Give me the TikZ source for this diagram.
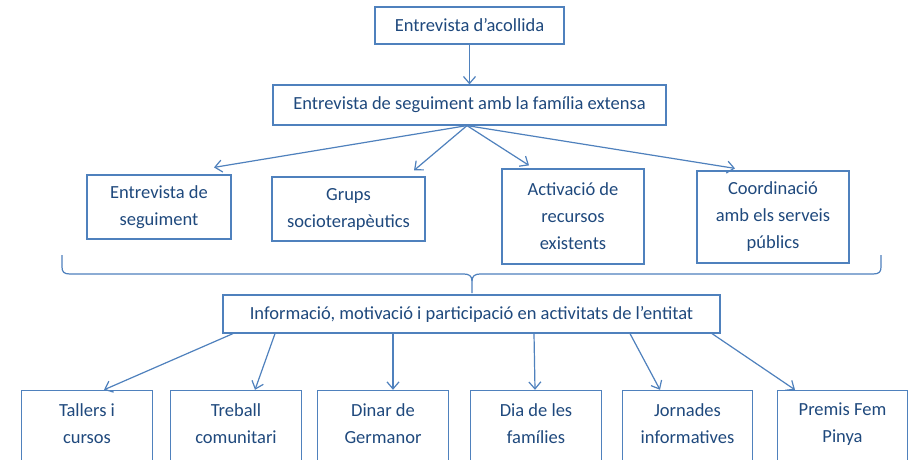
\documentclass[tikz,border=0pt]{standalone}
\usepackage{fontspec}
\setmainfont{Carlito}
\usetikzlibrary{arrows.meta}
\definecolor{txt}{HTML}{1F497D}
\definecolor{ln}{HTML}{4F81BD}
\begin{document}
\begin{tikzpicture}[x=1pt,y=-1pt,
  lab/.style={text=txt, align=center, inner sep=0pt, font=\fontsize{18.5pt}{27pt}\selectfont},
  box/.style={lab, draw=ln, line width=1.2pt},
  edge/.style={draw=ln, line width=1.2pt},
  arr/.style={edge, -{Straight Barb[length=7pt,width=12pt,line width=1.2pt]}}]
\clip (0,0) rectangle (912,460);
\fill[white] (0,0) rectangle (912,460);
% top
\node[box, minimum width=189pt, minimum height=37pt] (a) at (469.5,25.5) {Entrevista d’acollida};
\node[box, minimum width=393pt, minimum height=40pt] (b) at (469.5,105) {Entrevista de seguiment amb la família extensa};
% second row
\node[box, minimum width=144pt, minimum height=64pt] (c1) at (159,207) {Entrevista de\\seguiment};
\node[box, minimum width=153pt, minimum height=64pt] (c2) at (348.5,209) {Grups\\socioterapèutics};
\node[box, minimum width=142pt, minimum height=95pt] (c3) at (573,216.5) {Activació de\\recursos\\existents};
\node[box, minimum width=152pt, minimum height=92pt] (c4) at (773,217) {Coordinació\\amb els serveis\\públics};
% middle
\node[box, minimum width=497pt, minimum height=38pt] (d) at (471.5,314) {Informació, motivació i participació en activitats de l’entitat};
% bottom row (cut off at the lower edge)
\node[lab, minimum width=130pt, minimum height=66pt] (e1) at (87,424) {Tallers i\\cursos};
\node[lab, minimum width=130pt, minimum height=66pt] (e2) at (236,424) {Treball\\comunitari};
\node[lab, minimum width=130pt, minimum height=66pt] (e3) at (383,424) {Dinar de\\Germanor};
\node[lab, minimum width=130pt, minimum height=66pt] (e4) at (536,424) {Dia de les\\famílies};
\node[lab, minimum width=129pt, minimum height=66pt] (e5) at (687.5,424) {Jornades\\informatives};
\node[lab, minimum width=129pt, minimum height=66pt] (e6) at (842.5,424) {Premis Fem\\Pinya};
\foreach \n in {e1,e2,e3,e4,e5,e6}{
  \draw[edge] ([yshift=-10pt]\n.south west) -- (\n.north west) -- (\n.north east) -- ([yshift=-10pt]\n.south east);
}
% arrows
\draw[arr] (a.south) -- (b.north);
\draw[arr] ([xshift=-2.5pt]b.south) -- ([xshift=55pt,yshift=7pt]c1.north);
\draw[arr] ([xshift=-2.5pt]b.south) -- ([xshift=65.5pt,yshift=6pt]c2.north);
\draw[arr] ([xshift=-2.5pt]b.south) -- ([xshift=-44pt,yshift=3pt]c3.north);
\draw[arr] ([xshift=-2.5pt]b.south) -- ([xshift=-38pt,yshift=2pt]c4.north);
% brace
\coordinate (brL) at (62,255);
\coordinate (brR) at (881,255);
\coordinate (brM) at (472,293);
\draw[edge, line join=round] (brL) -- (62,267) .. controls (62,272) and (64,274) .. (70,274) -- (464,274)
  .. controls (469,274) and (472,276) .. (472,281) -- (brM);
\draw[edge, line join=round] (472,281) .. controls (472,276) and (475,274) .. (480,274) -- (873,274)
  .. controls (879,274) and (881,272) .. (881,267) -- (brR);
% lower arrows
\draw[arr] ([xshift=-238.5pt]d.south) -- ([xshift=17pt,yshift=1pt]e1.north);
\draw[arr] ([xshift=-196.5pt]d.south) -- ([xshift=19pt,yshift=1pt]e2.north);
\draw[arr] ([xshift=-78.5pt]d.south) -- ([xshift=10pt,yshift=1pt]e3.north);
\draw[arr] ([xshift=62.5pt]d.south) -- ([xshift=-1pt,yshift=1pt]e4.north);
\draw[arr] ([xshift=158.5pt]d.south) -- ([xshift=-27.5pt,yshift=1pt]e5.north);
\draw[arr] ([xshift=240.5pt]d.south) -- ([xshift=-47.5pt,yshift=1pt]e6.north);
\end{tikzpicture}
\end{document}
